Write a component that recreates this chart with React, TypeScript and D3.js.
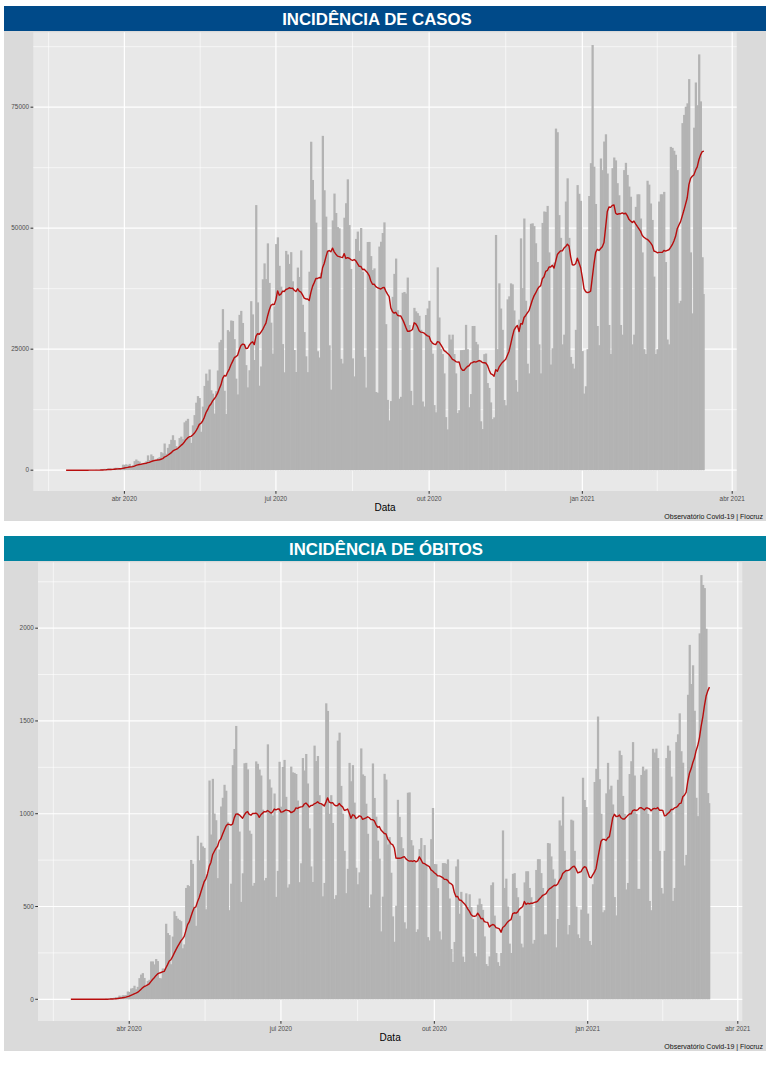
import React from 'react';
import * as d3 from 'd3';

// ---------- DATA (daily values, first day = 2020-02-26) ----------
const casos_fev20 = [1, 0, 0, 1];
const casos_mar20 = [0, 0, 0, 1, 4, 5, 6, 6, 0, 9, 18, 25, 21, 23, 79, 34, 57, 137, 193, 283, 224, 418, 345, 310, 232, 482, 502, 487, 352, 323, 1138];
const casos_abr20 = [1119, 1208, 1012, 1304, 770, 1031, 1873, 2210, 1930, 1781, 1089, 1442, 1261, 1832, 3058, 2105, 3257, 2917, 2055, 1927, 2498, 2678, 3735, 3503, 5514, 3379, 4613, 5385, 6276, 7218];
const casos_mai20 = [6209, 4970, 4588, 6633, 6935, 6412, 9888, 10222, 10611, 6760, 5632, 9258, 11385, 13944, 15305, 14919, 7938, 13140, 17408, 19951, 18508, 20803, 16508, 15813, 11687, 16324, 20599, 26417, 26928, 33274, 16409];
const casos_jun20 = [11598, 28936, 28633, 30925, 30830, 27075, 18912, 15654, 32091, 32913, 30412, 25982, 21704, 17110, 20647, 34918, 32188, 22765, 54771, 34666, 17459, 21432, 39436, 42725, 39483, 46860, 38693, 30476, 24052, 33846];
const casos_jul20 = [46712, 48105, 42223, 37923, 26051, 20229, 45305, 44571, 42619, 45048, 39023, 24831, 20286, 41857, 39924, 45403, 34177, 28532, 23529, 20257, 41008, 67860, 59961, 55891, 51147, 24578, 23284, 40816, 69074, 57837, 52383];
const casos_ago20 = [45392, 25800, 16641, 51603, 57152, 53139, 50230, 49970, 23010, 22048, 52160, 55155, 60091, 50644, 41576, 23101, 19373, 47784, 49298, 45323, 50032, 41000, 23421, 17078, 47134, 47161, 44235, 41350, 41700, 16158, 16000];
const casos_set20 = [46200, 47200, 49000, 51200, 30168, 14521, 10273, 14279, 35816, 40557, 43718, 33057, 14768, 15155, 36653, 36820, 36500, 39797, 30000, 16389, 13439, 33536, 32817, 32445, 31911, 29000, 14194, 13155, 32058, 33413];
const casos_out20 = [35000, 26310, 24062, 13446, 11946, 41906, 31553, 25000, 24000, 20000, 10965, 8429, 28000, 27000, 28000, 24000, 20000, 11800, 12400, 24800, 24818, 24858, 30026, 25000, 13000, 15726, 29787, 29800, 26500, 26000, 22700];
const casos_nov20 = [10100, 8501, 23976, 24100, 18000, 17000, 14000, 10554, 10917, 48600, 25012, 38600, 33400, 29000, 14500, 13400, 35294, 35918, 38600, 38397, 33000, 18615, 16207, 31100, 47898, 37614, 52000, 35000, 22000, 20000];
const casos_dez20 = [50909, 51000, 50434, 46884, 43000, 26000, 20000, 51088, 53453, 53347, 54600, 45000, 21825, 25193, 42889, 70574, 69826, 52700, 48000, 26000, 28000, 55500, 60300, 48000, 23400, 22000, 21000, 29000, 58900, 57100, 55649];
const casos_jan21 = [24605, 15827, 17341, 25000, 56648, 63430, 87843, 62700, 55000, 29792, 25822, 64400, 62000, 67900, 69400, 61300, 30000, 24000, 62400, 64600, 64000, 59300, 56800, 30000, 28000, 62000, 63500, 61000, 58600, 56500, 26000];
const casos_fev21 = [28000, 54400, 57000, 57000, 52000, 45000, 25000, 24000, 59800, 59000, 55100, 51700, 40000, 24000, 25000, 55500, 57000, 57000, 57500, 43000, 27000, 26000, 66800, 66588, 65998, 65169, 62000, 34500];
const casos_mar21 = [35000, 71704, 73400, 75102, 75800, 80800, 45000, 32400, 70764, 80100, 75412, 85900, 76200, 44000, 36400];

const obitos_fev20 = [0, 0, 0, 0];
const obitos_mar20 = [0, 0, 0, 0, 0, 0, 0, 0, 0, 0, 0, 0, 0, 0, 0, 0, 1, 3, 2, 5, 7, 7, 9, 12, 11, 20, 15, 22, 22, 23, 42];
const obitos_abr20 = [40, 58, 60, 73, 54, 67, 114, 133, 141, 115, 68, 99, 105, 204, 204, 188, 217, 206, 115, 113, 166, 165, 407, 357, 346, 189, 338, 474, 449, 435];
const obitos_mai20 = [428, 421, 275, 296, 600, 615, 610, 751, 730, 496, 396, 881, 749, 844, 824, 816, 485, 674, 1179, 888, 1188, 1001, 965, 653, 807, 1039, 1086, 1156, 1124, 956, 480];
const obitos_jun20 = [623, 1262, 1349, 1473, 1005, 904, 525, 679, 1272, 1274, 1239, 909, 892, 612, 627, 1282, 1269, 1238, 1206, 1022, 641, 654, 1374, 1185, 1141, 990, 1109, 552, 692, 1280];
const obitos_jul20 = [1038, 1252, 1290, 1091, 602, 620, 1254, 1223, 1220, 1214, 1071, 631, 733, 1300, 1233, 1322, 1163, 921, 716, 632, 1367, 1284, 1311, 1100, 1050, 555, 627, 1595, 1554, 1000, 1100];
const obitos_ago20 = [950, 541, 561, 1394, 1437, 1150, 1000, 800, 572, 703, 1274, 1175, 1262, 1060, 709, 620, 684, 1352, 1212, 1204, 1054, 892, 494, 565, 1271, 1085, 984, 855, 758, 366, 553];
const obitos_set20 = [1215, 1184, 834, 874, 682, 447, 310, 504, 1075, 983, 874, 814, 415, 381, 1113, 1115, 858, 829, 739, 363, 377, 809, 869, 729, 831, 729, 335, 317, 863, 1031];
const obitos_out20 = [729, 728, 599, 366, 322, 734, 734, 730, 754, 543, 271, 201, 309, 716, 754, 461, 579, 230, 201, 571, 497, 566, 497, 432, 249, 231, 510, 543, 513, 482, 339];
const obitos_nov20 = [190, 179, 231, 615, 630, 451, 250, 200, 180, 250, 910, 600, 650, 500, 300, 250, 676, 680, 600, 550, 450, 300, 280, 630, 690, 690, 600, 550, 300, 320];
const obitos_dez20 = [697, 755, 755, 680, 600, 350, 350, 842, 840, 770, 700, 650, 280, 433, 964, 936, 1092, 800, 700, 350, 400, 968, 963, 800, 500, 350, 330, 483, 1194, 1074, 1036];
const obitos_jan21 = [462, 314, 293, 620, 1171, 1242, 1524, 1186, 1000, 469, 480, 1110, 1274, 1131, 1151, 1050, 551, 452, 1183, 1340, 1316, 1096, 1000, 592, 627, 1214, 1283, 1386, 1206, 1000, 595];
const obitos_fev21 = [595, 1209, 1254, 1232, 1239, 1000, 530, 480, 1350, 1330, 1351, 1300, 800, 600, 570, 800, 1300, 1367, 1340, 1200, 530, 600, 1386, 1428, 1541, 1337, 1275, 721];
const obitos_mar21 = [778, 1641, 1910, 1699, 1800, 1555, 1086, 987, 1972, 2286, 2233, 2216, 1997, 1111, 1057];

const casos = [
  ...casos_fev20, ...casos_mar20, ...casos_abr20, ...casos_mai20, ...casos_jun20, ...casos_jul20,
  ...casos_ago20, ...casos_set20, ...casos_out20, ...casos_nov20, ...casos_dez20, ...casos_jan21,
  ...casos_fev21, ...casos_mar21,
];
const obitos = [
  ...obitos_fev20, ...obitos_mar20, ...obitos_abr20, ...obitos_mai20, ...obitos_jun20, ...obitos_jul20,
  ...obitos_ago20, ...obitos_set20, ...obitos_out20, ...obitos_nov20, ...obitos_dez20, ...obitos_jan21,
  ...obitos_fev21, ...obitos_mar21,
];

const xBreakDates = [Date.UTC(2020, 0, 1), Date.UTC(2020, 3, 1), Date.UTC(2020, 6, 1), Date.UTC(2020, 9, 1), Date.UTC(2021, 0, 1), Date.UTC(2021, 3, 1)];
const xBreakLabels = ['jan 2020', 'abr 2020', 'jul 2020', 'out 2020', 'jan 2021', 'abr 2021'];
const casosTicks = [0, 25000, 50000, 75000];
const casosMinor = [12500, 37500, 62500, 87500];
const obitosTicks = [0, 500, 1000, 1500, 2000];
const obitosMinor = [250, 750, 1250, 1750, 2250];

// ---------- CHART ----------
const DAY = 86400000;
const T0 = Date.UTC(2020, 1, 26);
const FONT = '"Liberation Sans", Arial, Helvetica, sans-serif';

function movingAvg(vals: number[], k: number): number[] {
  return vals.map((_, i) => d3.mean(vals.slice(Math.max(0, i - k + 1), i + 1)) as number);
}

type PanelProps = {
  y0: number;
  title: string;
  titleColor: string;
  titleX: number;
  values: number[];
  ticks: number[];
  minor: number[];
  yDomain: [number, number];
  left: number;
  right: number;
};

function Panel({ y0, title, titleColor, titleX, values, ticks, minor, yDomain, left, right }: PanelProps) {
  const top = y0 + 32.3;
  const bottom = y0 + 491;
  const n = values.length;
  const span = n * DAY;
  const x = d3
    .scaleUtc()
    .domain([T0 - 0.5 * DAY - 0.05 * span, T0 + (n - 0.5) * DAY + 0.05 * span])
    .range([left, right]);
  const y = d3.scaleLinear().domain(yDomain).range([bottom, top]);
  const bw = x(new Date(T0 + DAY)) - x(new Date(T0));
  const ma = movingAvg(values, 14);
  const line = d3
    .line<number>()
    .x((_, i) => x(new Date(T0 + i * DAY)))
    .y((v) => y(v));
  const dom = x.domain().map((d) => +d);
  const majors = xBreakDates
    .map((d, i) => ({ d, label: xBreakLabels[i] }))
    .filter((b) => b.d >= dom[0] && b.d <= dom[1]);
  const minorX = d3.pairs(xBreakDates).map(([a, b]) => (a + b) / 2).filter((d) => d >= dom[0] && d <= dom[1]);
  const cx = (left + right) / 2;
  const overlap = 0.6;

  return (
    <g>
      <rect x={4} y={y0 + 31} width={762} height={490} fill="#dadada" />
      <rect x={4} y={y0 + 6} width={762} height={25} fill={titleColor} />
      <text x={titleX} y={y0 + 25} textAnchor="middle" fill="#ffffff" fontFamily={FONT} fontWeight="bold" fontSize={16.8}>
        {title}
      </text>
      <rect x={left} y={top} width={right - left} height={bottom - top} fill="#e8e8e8" />
      {minor.map((v) => (
        <line key={'ym' + v} x1={left} x2={right} y1={y(v)} y2={y(v)} stroke="#ffffff" strokeWidth={0.6} />
      ))}
      {minorX.map((d) => (
        <line key={'xm' + d} x1={x(new Date(d))} x2={x(new Date(d))} y1={top} y2={bottom} stroke="#ffffff" strokeWidth={0.6} />
      ))}
      {ticks.map((v) => (
        <line key={'yM' + v} x1={left} x2={right} y1={y(v)} y2={y(v)} stroke="#ffffff" strokeWidth={1.2} />
      ))}
      {majors.map((b) => (
        <line key={'xM' + b.d} x1={x(new Date(b.d))} x2={x(new Date(b.d))} y1={top} y2={bottom} stroke="#ffffff" strokeWidth={1.2} />
      ))}
      {values.map((v, i) => {
        const xc = x(new Date(T0 + i * DAY));
        const isLast = i === n - 1;
        return (
          <rect
            key={'b' + i}
            x={xc - bw / 2}
            y={y(v)}
            width={bw + (isLast ? 0 : overlap)}
            height={y(0) - y(v)}
            fill="#b3b3b3"
          />
        );
      })}
      <path d={line(ma) || ''} fill="none" stroke="#b80d0d" strokeWidth={1.4} strokeLinejoin="round" />
      {ticks.map((v) => (
        <g key={'yt' + v}>
          <line x1={left - 2.75} x2={left} y1={y(v)} y2={y(v)} stroke="#333333" strokeWidth={1} />
          <text x={left - 4.2} y={y(v)} dy="0.35em" textAnchor="end" fontFamily={FONT} fontSize={6.4} fill="#4d4d4d">
            {String(v)}
          </text>
        </g>
      ))}
      {majors.map((b) => (
        <g key={'xt' + b.d}>
          <line x1={x(new Date(b.d))} x2={x(new Date(b.d))} y1={bottom} y2={bottom + 2.75} stroke="#333333" strokeWidth={1} />
          <text x={x(new Date(b.d))} y={y0 + 501} textAnchor="middle" fontFamily={FONT} fontSize={6.4} fill="#4d4d4d">
            {b.label}
          </text>
        </g>
      ))}
      <text x={cx} y={y0 + 511.3} textAnchor="middle" fontFamily={FONT} fontSize={10} fill="#000000">
        Data
      </text>
      <text x={763} y={y0 + 519} textAnchor="end" fontFamily={FONT} fontSize={7} fill="#111111">
        Observatório Covid-19 | Fiocruz
      </text>
    </g>
  );
}

export default function App() {
  return (
    <svg
      width={770}
      height={1068}
      viewBox="0 0 770 1068"
      style={{ position: 'absolute', left: 0, top: 0, display: 'block', background: '#ffffff' }}
    >
      <Panel
        y0={0}
        title="INCIDÊNCIA DE CASOS"
        titleColor="#004a89"
        titleX={377}
        values={casos}
        ticks={casosTicks}
        minor={casosMinor}
        yDomain={[-4300, 90470]}
        left={33.3}
        right={736.7}
      />
      <Panel
        y0={530}
        title="INCIDÊNCIA DE ÓBITOS"
        titleColor="#0083a0"
        titleX={386}
        values={obitos}
        ticks={obitosTicks}
        minor={obitosMinor}
        yDomain={[-117, 2355]}
        left={38}
        right={742.3}
      />
    </svg>
  );
}
